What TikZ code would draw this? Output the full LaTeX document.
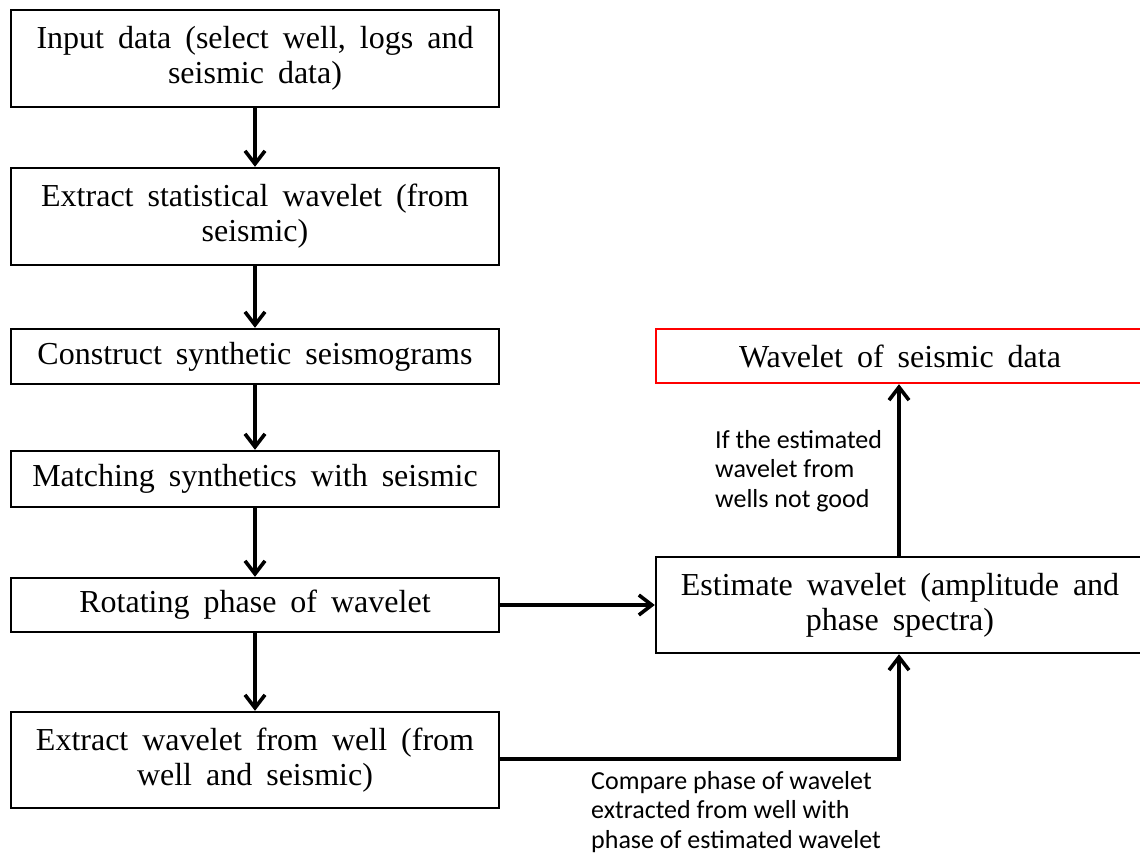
\documentclass[tikz,border=0pt]{standalone}
\usepackage{fontspec}
\setmainfont{Liberation Serif}
\newfontfamily\lblfont{Carlito}
\usetikzlibrary{arrows.meta}
\newcommand\myboxfont{\fontsize{32}{35}\selectfont\spaceskip=14pt plus 2pt minus 2pt\relax}
\tikzset{
  box/.style={draw=black, line width=2.4pt, fill=white, inner sep=0pt, align=center,
    minimum width=488pt, font=\myboxfont},
  redbox/.style={box, draw=red},
  conn/.style={line width=3.6pt, -{Straight Barb[length=13pt,width=20pt,line width=3.6pt]}},
  lbl/.style={inner sep=0pt, align=left, anchor=north west, font=\lblfont\fontsize{26}{29.5}\selectfont}
}
\begin{document}
\begin{tikzpicture}[x=1pt,y=-1pt]
\useasboundingbox (0,0) rectangle (1140,854);
\node[box, minimum height=97pt] (b1) at (255,58.5) {Input data (select well, logs and\\seismic data)};
\node[box, minimum height=97pt] (b2) at (255,216.5) {Extract statistical wavelet (from\\seismic)};
\node[box, minimum height=55pt] (b3) at (255,356.5) {Construct synthetic seismograms};
\node[box, minimum height=56pt] (b4) at (255,479) {Matching synthetics with seismic};
\node[box, minimum height=54pt] (b5) at (255,605) {Rotating phase of wavelet};
\node[box, minimum height=96pt] (b6) at (255,760) {Extract wavelet from well (from\\well and seismic)};
\node[redbox, minimum height=54pt] (r) at (900,356) {Wavelet of seismic data};
\node[box, minimum height=96pt] (e) at (900,605) {Estimate wavelet (amplitude and\\phase spectra)};
\coordinate (corner) at (899,759);
\draw[conn] (b1) -- (b2);
\draw[conn] (b2) -- (b3);
\draw[conn] (b3) -- (b4);
\draw[conn] (b4) -- (b5);
\draw[conn] (b5) -- (b6);
\draw[conn] (b5.east) -- (e.west);
\draw[conn] (e.north -| corner) -- (r.south -| corner);
\draw[conn] (b6.east |- corner) -- (corner) -- (e.south -| corner);
\node[lbl] (l1) at (715,430) {If the estimated\\wavelet from\\wells not good};
\node[lbl] (l2) at (591,771) {Compare phase of wavelet\\extracted from well with\\phase of estimated wavelet};
\end{tikzpicture}
\end{document}
